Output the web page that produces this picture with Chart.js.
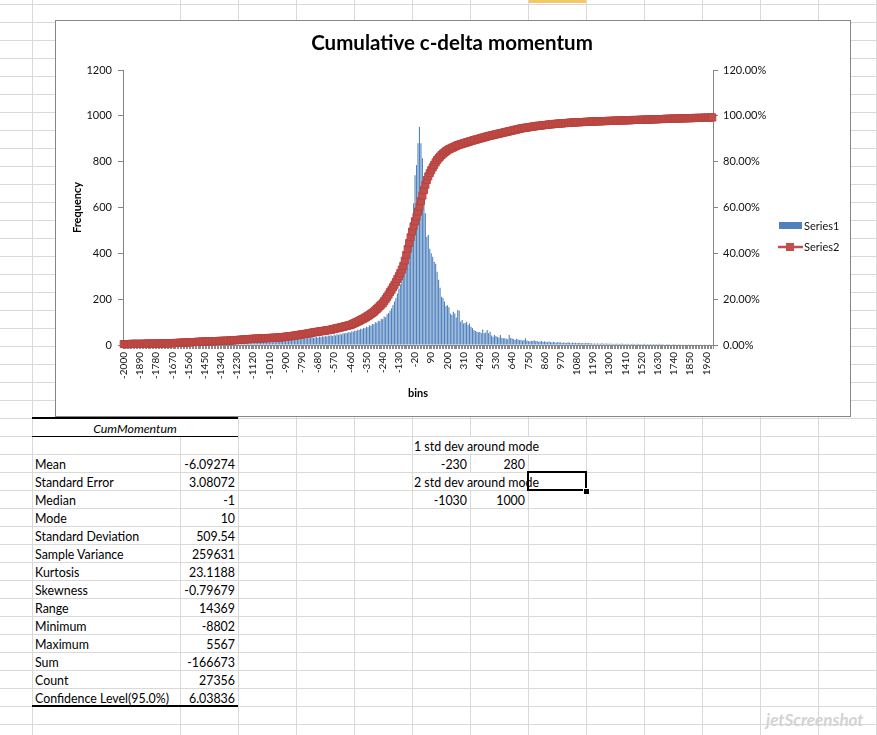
<!DOCTYPE html>
<html>
<head>
<meta charset="utf-8">
<title>Cumulative c-delta momentum</title>
<script src="https://cdn.jsdelivr.net/npm/chart.js@4.4.0/dist/chart.umd.min.js"></script>
<style>
  body { margin: 0; background: #fff; }
  #sheet { position: relative; width: 877px; height: 735px; overflow: hidden; background: #fff;
           font-family: Lato, "Liberation Sans", sans-serif; }
  .gl { position: absolute; background: #d9d9d9; }
  .cell { position: absolute; height: 17px; line-height: 19px; font-size: 12.4px; color: #000; white-space: nowrap; }
  .rule { position: absolute; background: #000; }
  #chartBox { position: absolute; left: 55px; top: 20px; width: 794px; height: 395px;
              border: 1px solid #868686; background: #fff; }
  #selCell { position: absolute; left: 527px; top: 471px; width: 56px; height: 16px; border: 2px solid #000; }
  #handle { position: absolute; left: 583px; top: 488px; width: 5px; height: 5px; background: #000; border: 1px solid #fff; }
  #colHead { position: absolute; left: 528px; top: 0; width: 58px; height: 3px; background: #f6c968; }
  #mark { position: absolute; left: 766px; top: 709px; font: italic bold 17px Lato, sans-serif; color: #d3d3d3; }
</style>
</head>
<body>
<div id="sheet">
  <div id="colHead"></div>
  <div id="chartBox"><canvas id="histChart" width="794" height="395"></canvas></div>
  <div id="selCell"></div>
  <div id="handle"></div>
  <div id="mark">jetScreenshot</div>
</div>
<script>
// bins (category axis)
const bins = [
  -2000,-1990,-1980,-1970,-1960,-1950,-1940,-1930,-1920,-1910,
  -1900,-1890,-1880,-1870,-1860,-1850,-1840,-1830,-1820,-1810,
  -1800,-1790,-1780,-1770,-1760,-1750,-1740,-1730,-1720,-1710,
  -1700,-1690,-1680,-1670,-1660,-1650,-1640,-1630,-1620,-1610,
  -1600,-1590,-1580,-1570,-1560,-1550,-1540,-1530,-1520,-1510,
  -1500,-1490,-1480,-1470,-1460,-1450,-1440,-1430,-1420,-1410,
  -1400,-1390,-1380,-1370,-1360,-1350,-1340,-1330,-1320,-1310,
  -1300,-1290,-1280,-1270,-1260,-1250,-1240,-1230,-1220,-1210,
  -1200,-1190,-1180,-1170,-1160,-1150,-1140,-1130,-1120,-1110,
  -1100,-1090,-1080,-1070,-1060,-1050,-1040,-1030,-1020,-1010,
  -1000,-990,-980,-970,-960,-950,-940,-930,-920,-910,
  -900,-890,-880,-870,-860,-850,-840,-830,-820,-810,
  -800,-790,-780,-770,-760,-750,-740,-730,-720,-710,
  -700,-690,-680,-670,-660,-650,-640,-630,-620,-610,
  -600,-590,-580,-570,-560,-550,-540,-530,-520,-510,
  -500,-490,-480,-470,-460,-450,-440,-430,-420,-410,
  -400,-390,-380,-370,-360,-350,-340,-330,-320,-310,
  -300,-290,-280,-270,-260,-250,-240,-230,-220,-210,
  -200,-190,-180,-170,-160,-150,-140,-130,-120,-110,
  -100,-90,-80,-70,-60,-50,-40,-30,-20,-10,
  0,10,20,30,40,50,60,70,80,90,
  100,110,120,130,140,150,160,170,180,190,
  200,210,220,230,240,250,260,270,280,290,
  300,310,320,330,340,350,360,370,380,390,
  400,410,420,430,440,450,460,470,480,490,
  500,510,520,530,540,550,560,570,580,590,
  600,610,620,630,640,650,660,670,680,690,
  700,710,720,730,740,750,760,770,780,790,
  800,810,820,830,840,850,860,870,880,890,
  900,910,920,930,940,950,960,970,980,990,
  1000,1010,1020,1030,1040,1050,1060,1070,1080,1090,
  1100,1110,1120,1130,1140,1150,1160,1170,1180,1190,
  1200,1210,1220,1230,1240,1250,1260,1270,1280,1290,
  1300,1310,1320,1330,1340,1350,1360,1370,1380,1390,
  1400,1410,1420,1430,1440,1450,1460,1470,1480,1490,
  1500,1510,1520,1530,1540,1550,1560,1570,1580,1590,
  1600,1610,1620,1630,1640,1650,1660,1670,1680,1690,
  1700,1710,1720,1730,1740,1750,1760,1770,1780,1790,
  1800,1810,1820,1830,1840,1850,1860,1870,1880,1890,
  1900,1910,1920,1930,1940,1950,1960,1970,1980,1990,
  2000
];

// bin labels excel actually prints
const shownBins = [
  -2000,-1890,-1780,-1670,-1560,-1450,-1340,-1230,-1120,-1010,-900,-790,-680,-570,-460,
  -350,-240,-130,-20,90,200,310,420,530,640,750,860,970,1080,1190,1300,1410,1520,1630,
  1740,1850,1960
];

// Series1 - frequency per bin
const frequency = [
  3,2,4,3,5,4,3,6,5,4,
  5,6,4,5,7,6,5,6,7,5,
  6,7,5,8,6,7,8,6,7,8,
  7,8,6,9,8,7,9,8,10,8,
  9,8,10,9,7,10,9,11,8,10,
  10,9,11,10,12,9,11,10,12,11,
  11,12,10,13,11,12,14,11,13,12,
  13,12,14,13,15,12,14,15,13,14,
  15,14,16,15,13,17,15,16,18,15,
  17,16,18,17,19,16,18,20,17,19,
  20,18,21,19,22,20,23,21,24,22,
  23,25,22,26,24,27,25,28,26,29,
  28,30,27,31,29,33,30,32,34,31,
  33,35,32,37,34,38,36,40,37,41,
  40,43,39,45,42,47,44,49,46,51,
  50,54,52,57,55,60,58,63,61,67,
  66,71,69,75,73,80,78,86,84,92,
  91,99,97,106,104,115,112,124,121,134,
  140,150,160,175,190,205,225,245,265,290,
  310,327,385,421,458,494,545,619,741,785,
  880,952,880,815,690,575,472,480,420,400,
  385,363,355,320,285,250,210,205,190,170,
  174,165,138,131,145,138,120,153,150,102,
  109,94,96,102,87,94,80,74,65,61,
  58,56,57,52,68,51,55,65,51,58,
  42,36,44,39,35,33,44,31,29,30,
  27,25,44,31,28,26,22,27,24,21,
  23,19,22,29,20,18,15,19,17,21,
  16,18,14,15,17,13,16,14,12,15,
  13,11,14,12,10,13,11,12,9,11,
  10,9,12,10,8,11,9,10,8,9,
  10,8,9,7,10,8,9,7,8,6,
  7,6,7,5,6,8,5,6,7,5,
  6,5,6,4,5,6,5,4,5,6,
  4,5,4,5,3,4,5,4,3,5,
  4,4,3,4,5,3,4,3,4,3,
  4,3,4,3,5,3,4,3,2,4,
  3,3,2,3,4,3,2,3,3,2,
  3,2,3,2,3,2,3,2,2,3,
  2,2,3,2,2,3,2,2,3,2,
  2
];

// Series2 - cumulative %
const cumulative = [
  0.4,0.4,0.4,0.4,0.4,0.5,0.5,0.5,0.5,0.5,
  0.5,0.5,0.5,0.5,0.5,0.6,0.6,0.6,0.6,0.6,
  0.6,0.6,0.6,0.6,0.6,0.7,0.7,0.7,0.7,0.7,
  0.7,0.7,0.8,0.8,0.8,0.9,0.9,0.9,1.0,1.0,
  1.0,1.1,1.1,1.1,1.2,1.2,1.2,1.3,1.3,1.3,
  1.4,1.4,1.4,1.5,1.5,1.5,1.5,1.6,1.6,1.6,
  1.6,1.7,1.7,1.7,1.7,1.8,1.8,1.8,1.8,1.9,
  1.9,1.9,1.9,2.0,2.0,2.1,2.1,2.2,2.2,2.3,
  2.3,2.4,2.4,2.5,2.5,2.6,2.6,2.7,2.7,2.7,
  2.8,2.8,2.8,2.9,2.9,2.9,3.0,3.0,3.0,3.1,
  3.1,3.1,3.2,3.2,3.2,3.3,3.3,3.4,3.4,3.5,
  3.6,3.7,3.8,3.8,3.9,4.0,4.1,4.2,4.3,4.4,
  4.5,4.6,4.7,4.8,4.9,5.0,5.1,5.2,5.4,5.5,
  5.6,5.7,5.8,5.9,6.0,6.1,6.2,6.3,6.4,6.5,
  6.6,6.7,6.9,7.0,7.2,7.3,7.5,7.6,7.8,7.9,
  8.1,8.3,8.4,8.6,8.7,9.0,9.3,9.6,9.9,10.2,
  10.5,10.9,11.2,11.5,11.9,12.3,12.7,13.1,13.6,14.0,
  14.5,15.1,15.7,16.3,17.0,17.6,18.2,19.1,20.0,21.0,
  22.0,23.1,24.1,25.2,26.3,27.5,28.8,30.0,31.4,32.9,
  34.5,36.8,39.3,41.9,44.5,47.0,49.5,51.8,54.0,56.0,
  58.2,60.4,62.8,65.2,67.6,69.9,72.0,73.6,75.0,76.3,
  77.5,78.6,79.7,80.7,81.5,82.2,82.9,83.5,84.0,84.5,
  85.0,85.4,85.7,86.0,86.3,86.6,86.9,87.2,87.4,87.6,
  87.8,88.0,88.2,88.4,88.6,88.8,89.0,89.2,89.4,89.6,
  89.7,89.9,90.1,90.3,90.5,90.6,90.8,91.0,91.2,91.3,
  91.5,91.6,91.8,91.9,92.1,92.2,92.4,92.5,92.7,92.8,
  93.0,93.1,93.3,93.4,93.6,93.7,93.9,94.0,94.2,94.3,
  94.5,94.6,94.7,94.8,94.9,95.0,95.1,95.2,95.3,95.4,
  95.5,95.6,95.7,95.7,95.8,95.9,96.0,96.0,96.1,96.2,
  96.3,96.3,96.4,96.5,96.5,96.6,96.6,96.7,96.7,96.8,
  96.8,96.9,96.9,97.0,97.0,97.1,97.1,97.1,97.2,97.2,
  97.2,97.3,97.3,97.3,97.4,97.4,97.4,97.5,97.5,97.5,
  97.5,97.6,97.6,97.6,97.6,97.7,97.7,97.7,97.7,97.8,
  97.8,97.8,97.8,97.9,97.9,97.9,97.9,98.0,98.0,98.0,
  98.0,98.0,98.1,98.1,98.1,98.1,98.2,98.2,98.2,98.2,
  98.2,98.3,98.3,98.3,98.3,98.4,98.4,98.4,98.4,98.4,
  98.5,98.5,98.5,98.5,98.6,98.6,98.6,98.6,98.7,98.7,
  98.7,98.7,98.7,98.8,98.8,98.8,98.8,98.8,98.9,98.9,
  98.9,98.9,98.9,99.0,99.0,99.0,99.0,99.0,99.1,99.1,
  99.1,99.1,99.1,99.1,99.2,99.2,99.2,99.2,99.2,99.3,
  99.3
];

// descriptive statistics block
const statNames = ['Mean','Standard Error','Median','Mode','Standard Deviation','Sample Variance',
  'Kurtosis','Skewness','Range','Minimum','Maximum','Sum','Count','Confidence Level(95.0%)'];
const statValues = ['-6.09274','3.08072','-1','10','509.54','259631','23.1188','-0.79679',
  '14369','-8802','5567','-166673','27356','6.03836'];
const oneStd = ['-230','280'];
const twoStd = ['-1030','1000'];

const blue = '#4F81BD';
const red = '#C0504D';
const chartTitle = 'Cumulative c-delta momentum';

// ---- spreadsheet grid ----
const sheet = document.getElementById('sheet');
function addDiv(cls, css, text) {
  const d = document.createElement('div');
  d.className = cls;
  Object.assign(d.style, css);
  if (text !== undefined) d.textContent = text;
  sheet.insertBefore(d, document.getElementById('chartBox'));
  return d;
}
for (let y = 4; y < 735; y += 18) addDiv('gl', {left: '0px', top: y + 'px', width: '877px', height: '1px'});
const colLines = [32, 180];
for (let x = 238; x <= 876; x += 58) colLines.push(x);
for (const x of colLines) addDiv('gl', {left: x + 'px', top: '0px', width: '1px', height: '735px'});

function cell(x1, x2, top, text, align, extra) {
  const css = {top: (top + 1) + 'px', left: (x1 + 3) + 'px', width: (x2 - x1 - 6) + 'px', textAlign: align || 'left'};
  return addDiv('cell', Object.assign(css, extra || {}), text);
}

// header of the stats table
addDiv('cell', {left: '33px', top: '419px', width: '204px', textAlign: 'center', background: '#fff',
  fontStyle: 'italic'}, 'CumMomentum');
addDiv('rule', {left: '32px', top: '417px', width: '206px', height: '2px'});
addDiv('rule', {left: '32px', top: '436px', width: '206px', height: '1px'});
addDiv('rule', {left: '32px', top: '705px', width: '206px', height: '2px'});
statNames.forEach((name, i) => {
  const top = 454 + i * 18;
  cell(32, 180, top, name, 'left');
  cell(180, 238, top, statValues[i], 'right');
});
// overflowing text hides the grid lines behind it
cell(412, 586, 436, '1 std dev around mode', 'left', {background: '#fff', width: '135px', left: '413px', paddingLeft: '1px'});
cell(412, 470, 454, oneStd[0], 'right');
cell(470, 528, 454, oneStd[1], 'right');
cell(412, 586, 472, '2 std dev around mode', 'left', {background: '#fff', width: '135px', left: '413px', paddingLeft: '1px'});
cell(412, 470, 490, twoStd[0], 'right');
cell(470, 528, 490, twoStd[1], 'right');

// ---- chart ----
Chart.defaults.font.family = 'Lato, "Liberation Sans", sans-serif';
Chart.defaults.color = '#111';

const sideLegend = {
  id: 'sideLegend',
  afterDraw(chart) {
    const ctx = chart.ctx;
    const a = chart.chartArea;
    const x = a.right + 66;
    ctx.save();
    // title, centred on the whole chart object like excel does
    ctx.font = 'bold 20.5px Lato, sans-serif';
    ctx.textAlign = 'center';
    ctx.textBaseline = 'middle';
    ctx.fillStyle = '#000';
    ctx.fillText(chartTitle, chart.width / 2 - 1, 22);
    ctx.textAlign = 'left';
    ctx.font = '11px Lato, sans-serif';
    ctx.fillStyle = blue;
    ctx.fillRect(x, a.top + 152, 23, 7);
    ctx.fillStyle = '#111';
    ctx.fillText('Series1', x + 25, a.top + 156);
    ctx.strokeStyle = red;
    ctx.lineWidth = 2.5;
    ctx.beginPath();
    ctx.moveTo(x - 1, a.top + 177);
    ctx.lineTo(x + 24, a.top + 177);
    ctx.stroke();
    ctx.fillStyle = red;
    ctx.fillRect(x + 7, a.top + 173, 8, 8);
    ctx.fillStyle = '#111';
    ctx.fillText('Series2', x + 25, a.top + 177);
    ctx.restore();
  }
};

const histChart = new Chart(document.getElementById('histChart'), {
  type: 'bar',
  data: {
    labels: bins.map(String),
    datasets: [{
      type: 'line',
      label: 'Series2',
      data: cumulative,
      yAxisID: 'y1',
      borderColor: red,
      borderWidth: 2.5,
      pointStyle: 'rect',
      pointRadius: 5,
      pointBackgroundColor: red,
      pointBorderColor: '#B8433F',
      pointBorderWidth: 1,
      tension: 0,
      clip: false,
      order: 0
    },
    {
      type: 'bar',
      label: 'Series1',
      data: frequency,
      yAxisID: 'y',
      backgroundColor: blue,
      barPercentage: 0.75,
      categoryPercentage: 1,
      order: 1
    }]
  },
  options: {
    responsive: false,
    animation: false,
    layout: { padding: { left: 11, right: 80, top: 49, bottom: 12 } },
    plugins: {
      legend: { display: false },
      tooltip: { enabled: false },
      title: { display: false }
    },
    scales: {
      x: {
        afterFit(scale) { scale.height = 59; },
        grid: { drawOnChartArea: false, drawTicks: true, tickLength: 4, color: '#8a8a8a', offset: true },
        border: { display: true, color: '#868686' },
        ticks: {
          autoSkip: false,
          minRotation: 90,
          maxRotation: 90,
          padding: 3,
          font: { size: 10 },
          callback: function (value, index) {
            return shownBins.includes(bins[index]) ? String(bins[index]) : '';
          }
        },
        title: { display: true, text: 'bins', color: '#000', font: { size: 11, weight: 'bold' } }
      },
      y: {
        position: 'left',
        min: 0,
        max: 1200,
        afterFit(scale) { scale.width = 56; },
        grid: { drawOnChartArea: false, drawTicks: true, tickLength: 5, color: '#868686' },
        border: { display: true, color: '#868686' },
        ticks: { stepSize: 200, padding: 6, font: { size: 11 }, callback: v => String(v) },
        title: { display: true, text: 'Frequency', color: '#000', font: { size: 11, weight: 'bold' } }
      },
      y1: {
        position: 'right',
        min: 0,
        max: 120,
        afterFit(scale) { scale.width = 57; },
        grid: { drawOnChartArea: false, drawTicks: true, tickLength: 5, color: '#868686' },
        border: { display: true, color: '#868686' },
        ticks: { stepSize: 20, padding: 5, font: { size: 11 }, callback: v => v.toFixed(2) + '%' }
      }
    }
  },
  plugins: [sideLegend]
});
</script>
</body>
</html>
